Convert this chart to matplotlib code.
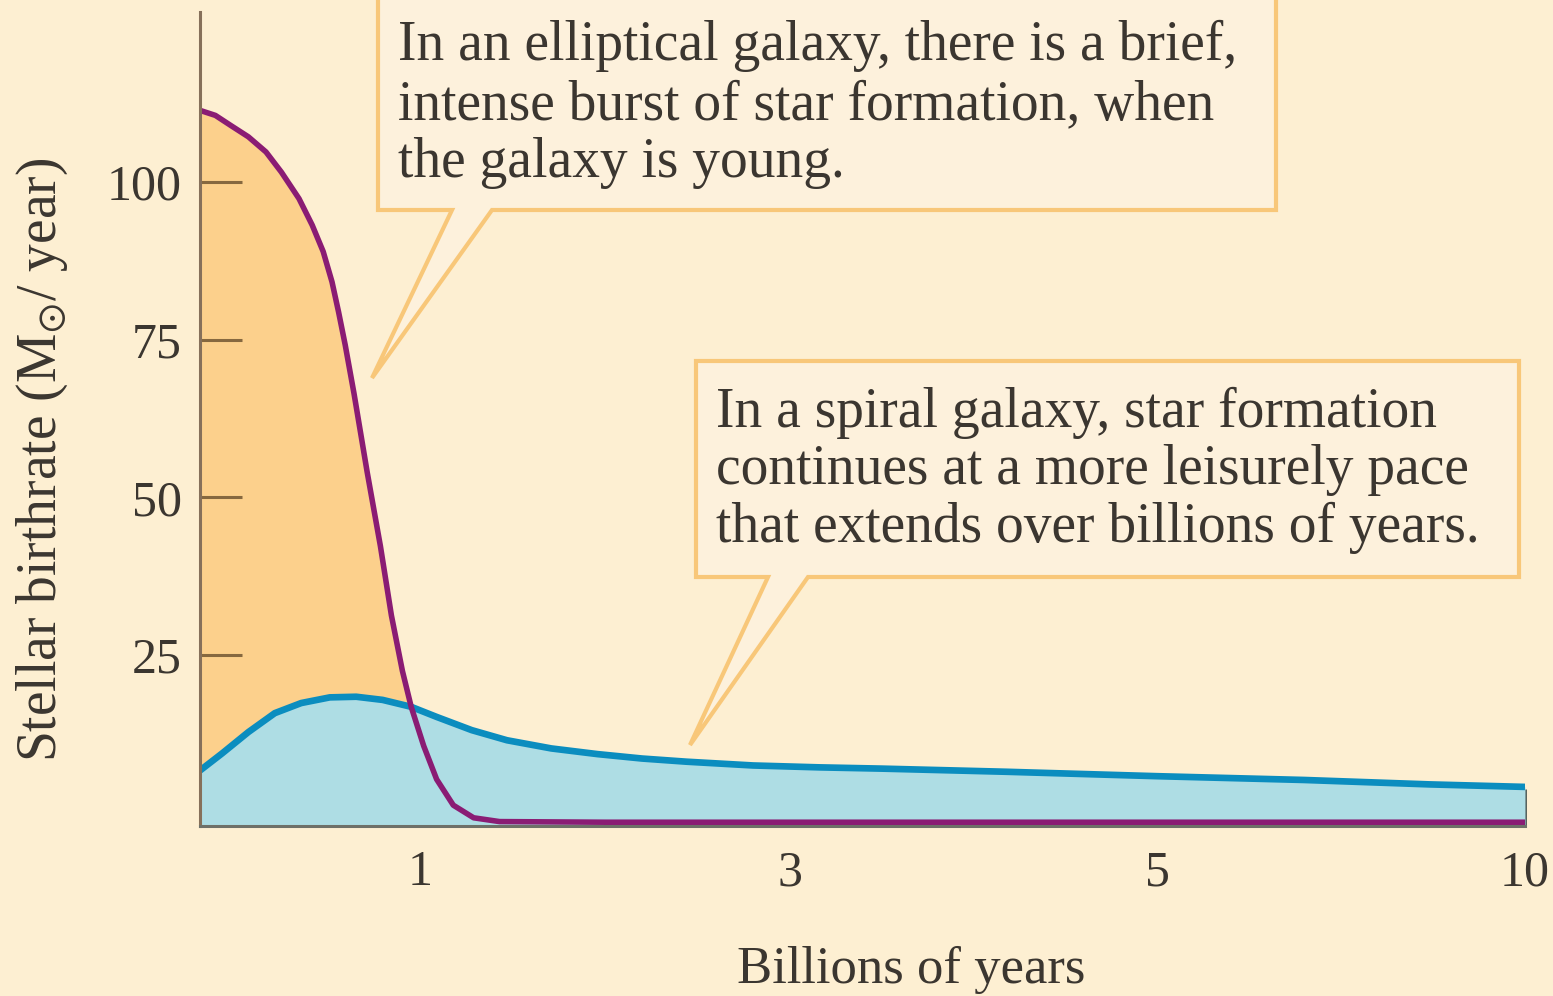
import numpy as np
import matplotlib
matplotlib.use("Agg")
import matplotlib.pyplot as plt
from matplotlib.patches import Polygon
from matplotlib.ticker import NullLocator

# values
# elliptical galaxy (purple curve)
ell_x = [0, 0.07, 0.14, 0.22, 0.30, 0.37, 0.45, 0.51, 0.56, 0.60, 0.63, 0.66, 0.70, 0.76,
         0.82, 0.87, 0.92, 0.96, 1.02, 1.09, 1.18, 1.29, 1.43, 2, 3, 5, 10]
ell_y = [111.4, 110.6, 109.0, 107.2, 104.8, 101.6, 97.4, 93.2, 89.0, 84.2, 79.4, 74.2, 66.5, 54.0,
         42.3, 31.3, 22.5, 16.8, 10.6, 5.3, 1.2, -0.8, -1.4, -1.5, -1.5, -1.5, -1.5]

# spiral galaxy (blue curve)
spi_x = [0, 0.10, 0.22, 0.34, 0.46, 0.59, 0.71, 0.83, 0.96, 1.09, 1.28, 1.47, 1.71, 1.96,
         2.2, 2.44, 2.8, 3.16, 3.5, 4.18, 5, 7, 8.7, 10]
spi_y = [6.7, 9.4, 12.8, 15.8, 17.4, 18.3, 18.4, 17.9, 16.8, 15.2, 13.1, 11.5, 10.2, 9.3,
         8.6, 8.1, 7.5, 7.2, 7.0, 6.5, 5.8, 5.2, 4.5, 4.1]

x_ticks = [1, 3, 5, 10]
y_ticks = [25, 50, 75, 100]

# the time axis is stretched unevenly in the original
x_knots = [0, 1, 3, 5, 10]
x_pos = [0, 220, 590, 957, 1325]

top_note = ["In an elliptical galaxy, there is a brief,",
            "intense burst of star formation, when",
            "the galaxy is young."]
bottom_note = ["In a spiral galaxy, star formation",
               "continues at a more leisurely pace",
               "that extends over billions of years."]

BG = "#fdefd2"
INK = "#3b3630"
W, H = 1553, 996

plt.rcParams["font.family"] = ["Liberation Serif", "DejaVu Serif"]
plt.rcParams["mathtext.fontset"] = "stix"

fig = plt.figure(figsize=(W / 100, H / 100), dpi=100, facecolor=BG)
ax = fig.add_axes([200 / W, (H - 826) / H, 1325 / W, 814 / H])
ax.set_facecolor(BG)


def fwd(x):
    return np.interp(x, x_knots, x_pos)


def inv(p):
    return np.interp(p, x_pos, x_knots)


ax.set_xscale("function", functions=(fwd, inv))
ax.set_xlim(0, 10)
ax.set_ylim(-2.1, 127)

ax.fill_between(ell_x, ell_y, -2.1, color="#fcd08c", lw=0, zorder=1)
ax.fill_between(spi_x, spi_y, -2.1, color="#aedde4", lw=0, zorder=2)
ax.plot(spi_x, spi_y, color="#0b8dbf", lw=4.8, solid_capstyle="butt",
        solid_joinstyle="round", zorder=3)
ax.plot(ell_x, ell_y, color="#8a1c74", lw=4.0, solid_capstyle="butt",
        solid_joinstyle="round", zorder=4)

for s in ["top", "right"]:
    ax.spines[s].set_visible(False)
ax.spines["left"].set_color("#86705a")
ax.spines["bottom"].set_color("#6e7068")
ax.spines["left"].set_linewidth(2.2)
ax.spines["bottom"].set_linewidth(2.2)
ax.spines["left"].set_zorder(5)
ax.spines["bottom"].set_zorder(5)

ax.set_xticks(x_ticks)
ax.set_xticklabels([str(t) for t in x_ticks])
ax.xaxis.set_minor_locator(NullLocator())
ax.set_yticks(y_ticks)
ax.tick_params(axis="x", direction="in", length=27, width=2, color="#44524f",
               pad=17, labelsize=36, labelcolor=INK)
ax.tick_params(axis="y", direction="in", length=30, width=2.2, color="#86683f",
               pad=13, labelsize=36, labelcolor=INK)
for t in ax.xaxis.get_major_ticks():
    t.tick1line.set_zorder(6)

ax.set_xlabel("Billions of years", fontsize=38, color=INK, va="baseline")
ax.xaxis.set_label_coords((911 - 200) / 1325, (826 - 983) / 814)
ax.set_ylabel(r"Stellar birthrate (M$_{\odot}$/ year)", fontsize=40, color=INK,
              va="center", ha="center", rotation_mode="anchor")
ax.yaxis.set_label_coords((42 - 200) / 1325, (826 - 460) / 814)


def px(pts):
    return [(x / W, 1 - y / H) for x, y in pts]


boxes = [
    [(378, -10), (1276, -10), (1276, 210), (492, 210), (372, 378), (452, 210), (378, 210)],
    [(696, 361), (1519, 361), (1519, 577), (808, 577), (690, 745), (768, 577), (696, 577)],
]
for b in boxes:
    fig.add_artist(Polygon(px(b), closed=True, transform=fig.transFigure,
                           facecolor="#fdf1dc", edgecolor="#f8c779", lw=3, zorder=10))

for i, line in enumerate(top_note):
    fig.text(398 / W, 1 - [60, 119, 177][i] / H, line, fontsize=40, color=INK,
             va="baseline", ha="left", zorder=11)
for i, line in enumerate(bottom_note):
    fig.text(716 / W, 1 - [427, 484, 542][i] / H, line, fontsize=40, color=INK,
             va="baseline", ha="left", zorder=11)

fig.savefig("out.png", dpi=100, facecolor=BG)
